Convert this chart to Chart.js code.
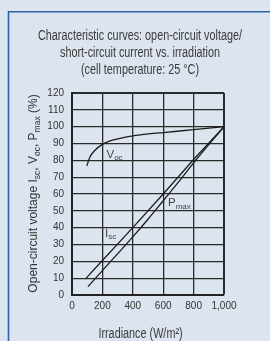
<!DOCTYPE html>
<html><head><meta charset="utf-8">
<script src="https://cdn.jsdelivr.net/npm/chart.js@4/dist/chart.umd.min.js"></script>
<style>html,body{margin:0;padding:0;background:#dce4ef;}#wrap{width:270px;height:341px;}</style>
</head><body><div id="wrap"><canvas id="c" width="270" height="341"></canvas></div>
<script>
// ---- data ----
const titleLines = ['Characteristic curves: open-circuit voltage/', 'short-circuit current vs. irradiation', '(cell temperature: 25 °C)'];
const xAxisTitle = 'Irradiance (W/m²)';
const xTickValues = [0, 200, 400, 600, 800, 1000];
const xTickLabels = ['0', '200', '400', '600', '800', '1,000'];
const yTickValues = [0, 10, 20, 30, 40, 50, 60, 70, 80, 90, 100, 110, 120];

const vocX = [97, 118, 151, 200, 250, 316, 400, 450, 600, 800, 1000];
const vocY = [76.6, 82, 86, 89.5, 91.5, 93, 94.5, 95.1, 96.5, 98.2, 100];
const iscX = [93, 200, 400, 600, 800, 1000];
const iscY = [10, 20.5, 40, 60, 80.5, 100];
const pmaxX = [105, 200, 400, 500, 600, 700, 800, 1000];
const pmaxY = [5, 14.5, 34.5, 45, 56, 67, 78.5, 100];

const toPts = (xs, ys) => xs.map((x, i) => ({x, y: ys[i]}));

const FONT_SANS = '"Liberation Sans", Arial, sans-serif';
const FONT_TITLE = '14px "Liberation Sans", Arial, sans-serif';

function drawSubText(ctx, parts, x, y, align) {
  let total = 0;
  parts.forEach(p => { ctx.font = p[1] + 'px ' + FONT_SANS; total += ctx.measureText(p[0]).width; });
  let cx = align === 'center' ? x - total / 2 : x;
  parts.forEach(p => {
    ctx.font = p[1] + 'px ' + FONT_SANS;
    ctx.fillText(p[0], cx, y + p[2]);
    cx += ctx.measureText(p[0]).width;
  });
}

// condensed text: draw 14px text compressed horizontally by a fixed factor
function drawCondensed(ctx, text, cx, y, factor) {
  ctx.save();
  ctx.font = FONT_TITLE;
  ctx.textAlign = 'center';
  ctx.translate(cx, y);
  ctx.scale(factor, 1);
  ctx.fillText(text, 0, 0);
  ctx.restore();
}

const deco = {
  id: 'deco',
  beforeDraw(chart) {
    const ctx = chart.ctx;
    ctx.save();
    ctx.fillStyle = '#dce4ef';
    ctx.fillRect(0, 0, chart.width, chart.height);
    ctx.strokeStyle = '#2d63a6';
    ctx.lineWidth = 1.6;
    ctx.beginPath();
    ctx.moveTo(8.5, 341); ctx.lineTo(8.5, 11.8); ctx.lineTo(270, 11.8);
    ctx.stroke();
    ctx.restore();
  },
  afterDraw(chart) {
    const ctx = chart.ctx;
    ctx.save();
    ctx.fillStyle = '#3a3a3a';
    ctx.textBaseline = 'alphabetic';
    // title: condensed to match reference width
    ctx.font = FONT_TITLE;
    const w0 = ctx.measureText(titleLines[0]).width;
    const factor = 204 / w0;
    const base = [39.5, 56.5, 73.5];
    titleLines.forEach((t, i) => drawCondensed(ctx, t, 140, base[i], factor));
    drawCondensed(ctx, xAxisTitle, 140.5, 337.5, factor);
    // y axis title
    ctx.save();
    ctx.translate(37, 193.5);
    ctx.rotate(-Math.PI / 2);
    ctx.textAlign = 'left';
    ctx.fillStyle = '#333';
    drawSubText(ctx, [['Open-circuit voltage I', 12, 0], ['sc', 8.5, 2.5], [', V', 12, 0], ['oc', 8.5, 2.5], [', P', 12, 0], ['max', 8.5, 2.5], [' (%)', 12, 0]], 0, 0, 'center');
    ctx.restore();
    // curve labels
    ctx.textAlign = 'left';
    ctx.fillStyle = '#444';
    drawSubText(ctx, [['V', 11.5, 0], ['oc', 8, 2.5]], 106.5, 157.5, 'left');
    drawSubText(ctx, [['I', 11.5, 0], ['sc', 8, 2.5]], 105, 236.5, 'left');
    drawSubText(ctx, [['P', 11.5, 0], ['max', 8, 2.5]], 168, 206, 'left');
    ctx.restore();
  }
};

const lineStyle = {borderColor: '#1c1c1c', borderWidth: 1.3, pointRadius: 0, fill: false};

new Chart(document.getElementById('c'), {
  type: 'line',
  data: {
    datasets: [
      Object.assign({label: 'Voc', data: toPts(vocX, vocY), cubicInterpolationMode: 'monotone'}, lineStyle),
      Object.assign({label: 'Isc', data: toPts(iscX, iscY)}, lineStyle),
      Object.assign({label: 'Pmax', data: toPts(pmaxX, pmaxY), cubicInterpolationMode: 'monotone'}, lineStyle)
    ]
  },
  options: {
    responsive: false,
    animation: false,
    devicePixelRatio: 1,
    layout: {padding: {left: 42, top: 93, right: 46, bottom: 26}},
    plugins: {legend: {display: false}, title: {display: false}, tooltip: {enabled: false}},
    scales: {
      x: {
        type: 'linear', min: 0, max: 1000,
        afterFit: s => { s.height = 20; },
        afterBuildTicks: s => { s.ticks = xTickValues.map(v => ({value: v})); },
        ticks: {
          padding: 5, color: '#333', font: {family: FONT_SANS, size: 10},
          maxRotation: 0, autoSkip: false,
          callback: (v) => { const i = xTickValues.indexOf(v); return i >= 0 ? xTickLabels[i] : ''; }
        },
        grid: {color: '#2a2a2a', lineWidth: c => (c.tick && c.tick.value === 1000 ? 2 : 1.3), drawTicks: false},
        border: {display: true, color: '#222', width: 2}
      },
      y: {
        type: 'linear', min: 0, max: 120,
        afterFit: s => { s.width = 30; },
        afterBuildTicks: s => { s.ticks = yTickValues.map(v => ({value: v})); },
        ticks: {padding: 8, color: '#333', font: {family: FONT_SANS, size: 10}, autoSkip: false},
        grid: {color: '#2a2a2a', lineWidth: c => (c.tick && c.tick.value === 120 ? 2 : 1.3), drawTicks: false},
        border: {display: true, color: '#222', width: 2}
      }
    }
  },
  plugins: [deco]
});
</script>
</body></html>
